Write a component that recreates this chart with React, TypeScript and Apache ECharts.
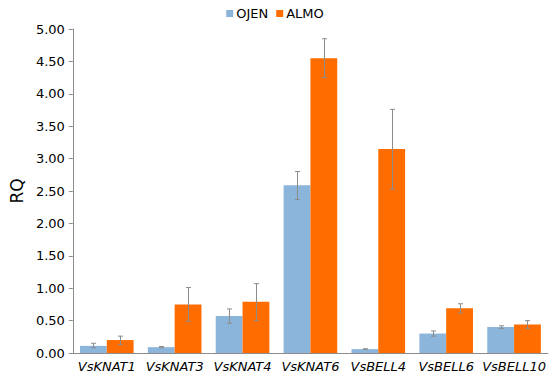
import React, { useEffect, useRef } from "react";
import * as echarts from "echarts";

const categories = ["VsKNAT1", "VsKNAT3", "VsKNAT4", "VsKNAT6", "VsBELL4", "VsBELL6", "VsBELL10"];
const ojen = [0.11, 0.09, 0.57, 2.59, 0.06, 0.30, 0.40];
const ojenLow = [0.08, 0.08, 0.46, 2.37, 0.055, 0.26, 0.38];
const ojenHigh = [0.15, 0.10, 0.68, 2.80, 0.065, 0.34, 0.42];
const almo = [0.20, 0.75, 0.79, 4.55, 3.15, 0.69, 0.44];
const almoLow = [0.13, 0.49, 0.50, 4.25, 2.53, 0.62, 0.38];
const almoHigh = [0.26, 1.01, 1.07, 4.85, 3.76, 0.76, 0.50];
const yTicks = [0, 0.5, 1, 1.5, 2, 2.5, 3, 3.5, 4, 4.5, 5];

const GAP = 0.21;
const FONT = "DejaVu Sans";

function errorSeries(low: number[], high: number[], side: number) {
  return {
    type: "custom",
    z: 10,
    silent: true,
    renderItem: (params: any, api: any) => {
      const idx = api.value(0);
      const lo = api.coord([idx, api.value(1)]);
      const hi = api.coord([idx, api.value(2)]);
      const band = api.size([1, 0])[0];
      const bw = (band * (1 - GAP)) / 2;
      const x = Math.round(lo[0] + side * bw / 2) + 0.5;
      const cap = 2.5;
      const style = { stroke: "#8c8c8c", lineWidth: 1 };
      return {
        type: "group",
        children: [
          { type: "line", shape: { x1: x, y1: hi[1], x2: x, y2: lo[1] }, style },
          { type: "line", shape: { x1: x - cap, y1: hi[1], x2: x + cap, y2: hi[1] }, style },
          { type: "line", shape: { x1: x - cap, y1: lo[1], x2: x + cap, y2: lo[1] }, style },
        ],
      };
    },
    encode: { x: 0, y: [1, 2] },
    data: categories.map((_, i) => [i, low[i], high[i]]),
  };
}

export default function App() {
  const ref = useRef<HTMLDivElement>(null);
  useEffect(() => {
    if (!ref.current) return;
    const chart = echarts.init(ref.current, null, { renderer: "svg" });
    chart.setOption({
      animation: false,
      textStyle: { fontFamily: FONT },
      legend: {
        top: 2,
        left: "center",
        itemWidth: 7,
        itemHeight: 7,
        itemGap: 8,
        icon: "rect",
        textStyle: { fontFamily: FONT, fontSize: 13, color: "#000", padding: [0, 0, 0, -2] },
        data: ["OJEN", "ALMO"],
      },
      grid: { left: 57, right: 2, top: 29, bottom: 24, containLabel: false },
      xAxis: {
        type: "category",
        data: categories,
        axisLine: { show: true, lineStyle: { color: "#8c8c8c", width: 1 } },
        axisTick: { show: false },
        axisLabel: {
          fontFamily: FONT,
          fontSize: 13,
          fontStyle: "italic",
          color: "#000",
          margin: 7,
          interval: 0,
        },
      },
      yAxis: {
        type: "value",
        min: 0,
        max: 5,
        interval: 0.5,
        name: "RQ",
        nameLocation: "middle",
        nameGap: 40,
        nameTextStyle: { fontFamily: FONT, fontSize: 17, color: "#000" },
        splitLine: { show: false },
        axisLine: { show: true, lineStyle: { color: "#8c8c8c", width: 1 } },
        axisTick: { show: true, length: 4, lineStyle: { color: "#8c8c8c" } },
        axisLabel: {
          fontFamily: FONT,
          fontSize: 13,
          color: "#000",
          margin: 8,
          formatter: (v: number) => (yTicks.includes(v) ? v.toFixed(2) : ""),
        },
      },
      series: [
        {
          name: "OJEN",
          type: "bar",
          data: ojen,
          barGap: "0%",
          barCategoryGap: GAP * 100 + "%",
          itemStyle: { color: "#8cb5dc" },
        },
        {
          name: "ALMO",
          type: "bar",
          data: almo,
          barGap: "0%",
          barCategoryGap: GAP * 100 + "%",
          itemStyle: { color: "#ff6d00" },
        },
        errorSeries(ojenLow, ojenHigh, -1),
        errorSeries(almoLow, almoHigh, 1),
      ],
    });
    return () => chart.dispose();
  }, []);
  return <div ref={ref} style={{ width: 550, height: 377, position: "absolute", left: 0, top: 0 }} />;
}
